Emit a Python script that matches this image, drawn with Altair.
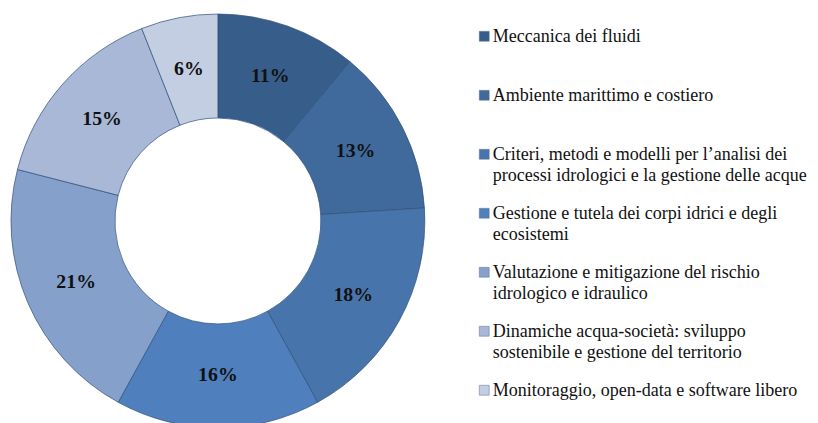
import altair as alt
import pandas as pd

categories = [
    "Meccanica dei fluidi",
    "Ambiente marittimo e costiero",
    "Criteri, metodi e modelli per l\u2019analisi dei\nprocessi idrologici e la gestione delle acque",
    "Gestione e tutela dei corpi idrici e degli\necosistemi",
    "Valutazione e mitigazione del rischio\nidrologico e idraulico",
    "Dinamiche acqua-societ\u00e0: sviluppo\nsostenibile e gestione del territorio",
    "Monitoraggio, open-data e software libero",
]
values = [11, 13, 18, 16, 21, 15, 6]
colors = ["#375E8A", "#406A9C", "#4874AC", "#4F80BD", "#85A0CB", "#A8B8D6", "#C3CEE2"]

df = pd.DataFrame({
    "cat": categories,
    "value": values,
    "idx": list(range(len(categories))),
    "label": [f"{v}%" for v in values],
})

color_scale = alt.Scale(domain=categories, range=colors)

base = alt.Chart(df)

CX, CY = 212, 213

arc = base.mark_arc(innerRadius=104, outerRadius=209, stroke="#2E4F7A", strokeWidth=0.7).encode(
    theta=alt.Theta("value:Q", stack=True),
    color=alt.Color("cat:N", scale=color_scale, legend=None),
    order=alt.Order("idx:Q"),
    x=alt.value(CX),
    y=alt.value(CY),
)

labels = base.mark_text(radius=156, font="Liberation Serif", fontWeight="bold", fontSize=20,
                        color="#111111").encode(
    theta=alt.Theta("value:Q", stack=True),
    detail="cat:N",
    order=alt.Order("idx:Q"),
    text="label:N",
    x=alt.value(CX),
    y=alt.value(CY),
)

yscale = alt.Scale(domain=[0, 6], range=[26.5, 384])

squares = base.mark_square(size=100, stroke="#5a6f8f", strokeWidth=0.5, opacity=1).encode(
    x=alt.value(481),
    y=alt.Y("idx:Q", scale=yscale, axis=None),
    color=alt.Color("cat:N", scale=color_scale, legend=None),
)

legend_text = base.mark_text(align="left", baseline="alphabetic", dy=6, lineBreak="\n",
                             font="Liberation Serif", fontSize=18.2, lineHeight=21,
                             color="#111111").encode(
    x=alt.value(489.5),
    y=alt.Y("idx:Q", scale=yscale, axis=None),
    text="cat:N",
)

chart = alt.layer(arc, labels, squares, legend_text).properties(
    width=810, height=415,
    autosize=alt.AutoSizeParams(type="none"),
    padding=0,
    background="white",
).configure_view(stroke=None)

chart.save("out.html", embed_options={"renderer": "svg", "actions": False})
